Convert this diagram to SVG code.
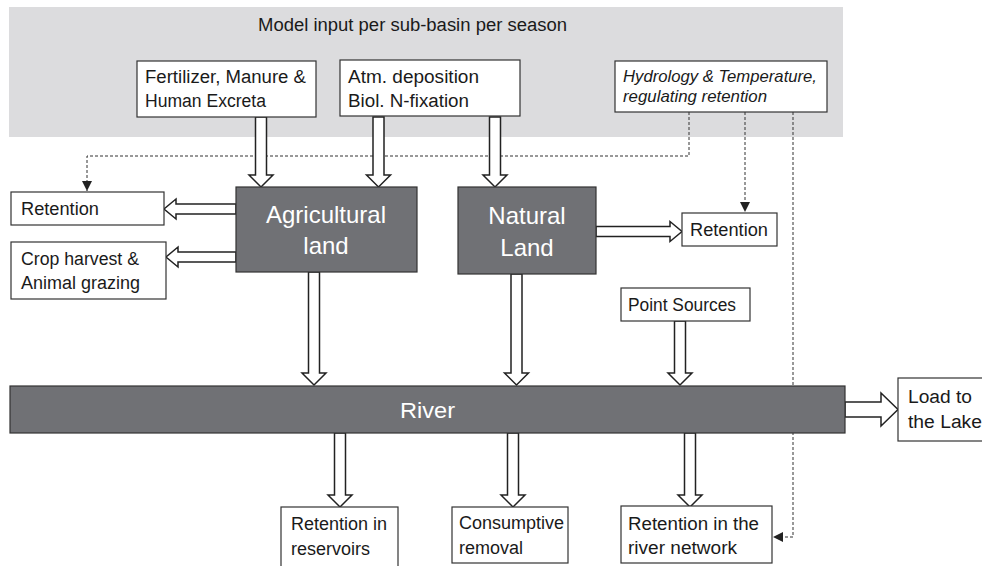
<svg xmlns="http://www.w3.org/2000/svg" width="982" height="566" viewBox="0 0 982 566">
<style>
  text { font-family: "Liberation Sans", Arial, sans-serif; fill: #1a1a1a; }
  .lbl { font-size: 18px; }
  .it { font-size: 16.5px; font-style: italic; }
  .big { font-size: 24px; fill: #ffffff; }
  .box { fill: #ffffff; stroke: #333333; stroke-width: 1.2; }
  .dark { fill: #707175; stroke: #333333; stroke-width: 1.2; }
  .arr { fill: #ffffff; stroke: #222222; stroke-width: 1.5; stroke-linejoin: miter; }
  .dash { fill: none; stroke: #333333; stroke-width: 1; stroke-dasharray: 3 2; }
</style>
<defs>
  <marker id="ah" viewBox="0 0 10 10" refX="10" refY="5" markerWidth="10" markerHeight="10" markerUnits="userSpaceOnUse" orient="auto">
    <path d="M0,0 L10,5 L0,10 Z" fill="#222222"/>
  </marker>
</defs>

<rect id="input-panel" x="9" y="7" width="834" height="130" fill="#dcdcde"/>
<text class="lbl" x="258" y="31" textLength="309" lengthAdjust="spacingAndGlyphs">Model input per sub-basin per season</text>

<g id="connectors">
  <path class="dash" d="M689,112 V156 H87 V191" marker-end="url(#ah)"/>
  <path class="dash" d="M745,112 V212" marker-end="url(#ah)"/>
  <path class="dash" d="M793,112 V537 H773" marker-end="url(#ah)"/>
  <polygon class="arr" points="255.5,117 266.5,117 266.5,175 273,175 261,187 249,175 255.5,175"/>
  <polygon class="arr" points="373,117 384,117 384,175 390.5,175 378.5,187 366.5,175 373,175"/>
  <polygon class="arr" points="489.5,117 500.5,117 500.5,175 507,175 495,187 483,175 489.5,175"/>
  <polygon class="arr" points="236,204 236,214 176,214 176,219 164,209 176,199 176,204"/>
  <polygon class="arr" points="236,252 236,262 178,262 178,267 166,257 178,247 178,252"/>
  <polygon class="arr" points="596,226.5 596,236.5 670,236.5 670,241.5 682,231.5 670,221.5 670,226.5"/>
  <polygon class="arr" points="308.5,272 319.5,272 319.5,373 326,373 314,385 302,373 308.5,373"/>
  <polygon class="arr" points="511,274 522,274 522,373 528.5,373 516.5,385 504.5,373 511,373"/>
  <polygon class="arr" points="674.5,321 685.5,321 685.5,373 692,373 680,385 668,373 674.5,373"/>
  <polygon class="arr" points="334.5,433 345.5,433 345.5,495 352,495 340,507 328,495 334.5,495"/>
  <polygon class="arr" points="507.5,433 518.5,433 518.5,495 525,495 513,507 501,495 507.5,495"/>
  <polygon class="arr" points="684.5,433 695.5,433 695.5,495 702,495 690,507 678,495 684.5,495"/>
  <polygon class="arr" points="845,402 881,402 881,393 898,409.5 881,426 881,417 845,417"/>
</g>

<g id="fertilizer">
  <rect class="box" x="137" y="61" width="179" height="56"/>
  <text class="lbl" x="145" y="83" textLength="161" lengthAdjust="spacingAndGlyphs">Fertilizer, Manure &amp;</text>
  <text class="lbl" x="145" y="107" textLength="121" lengthAdjust="spacingAndGlyphs">Human Excreta</text>
</g>
<g id="atm">
  <rect class="box" x="340" y="60" width="180" height="56"/>
  <text class="lbl" x="348" y="83" textLength="131" lengthAdjust="spacingAndGlyphs">Atm. deposition</text>
  <text class="lbl" x="348" y="107" textLength="121" lengthAdjust="spacingAndGlyphs">Biol. N-fixation</text>
</g>
<g id="hydrology">
  <rect class="box" x="615" y="61" width="212" height="51"/>
  <text class="it" x="623" y="82" textLength="194" lengthAdjust="spacingAndGlyphs">Hydrology &amp; Temperature,</text>
  <text class="it" x="623" y="102" textLength="144" lengthAdjust="spacingAndGlyphs">regulating retention</text>
</g>
<g id="retention-left">
  <rect class="box" x="11" y="192" width="153" height="33"/>
  <text class="lbl" x="21" y="215" textLength="78" lengthAdjust="spacingAndGlyphs">Retention</text>
</g>
<g id="crop-harvest">
  <rect class="box" x="11" y="242" width="155" height="57"/>
  <text class="lbl" x="21" y="265" textLength="118" lengthAdjust="spacingAndGlyphs">Crop harvest &amp;</text>
  <text class="lbl" x="21" y="289" textLength="119" lengthAdjust="spacingAndGlyphs">Animal grazing</text>
</g>
<g id="agricultural-land">
  <rect class="dark" x="236" y="187" width="181" height="85"/>
  <text class="big" x="326" y="223" text-anchor="middle">Agricultural</text>
  <text class="big" x="326" y="254" text-anchor="middle">land</text>
</g>
<g id="natural-land">
  <rect class="dark" x="458" y="187" width="138" height="87"/>
  <text class="big" x="527" y="224" text-anchor="middle">Natural</text>
  <text class="big" x="527" y="256" text-anchor="middle">Land</text>
</g>
<g id="retention-right">
  <rect class="box" x="682" y="213" width="95" height="33"/>
  <text class="lbl" x="690" y="236" textLength="78" lengthAdjust="spacingAndGlyphs">Retention</text>
</g>
<g id="point-sources">
  <rect class="box" x="621" y="288" width="129" height="33"/>
  <text class="lbl" x="628" y="311" textLength="108" lengthAdjust="spacingAndGlyphs">Point Sources</text>
</g>
<g id="river">
  <rect class="dark" x="10" y="386" width="835" height="47"/>
  <text class="big" x="400" y="418" textLength="55" lengthAdjust="spacingAndGlyphs" style="font-size:22px">River</text>
</g>
<g id="load-lake">
  <rect class="box" x="898" y="378" width="95" height="63"/>
  <text class="lbl" x="908" y="403" textLength="64" lengthAdjust="spacingAndGlyphs">Load to</text>
  <text class="lbl" x="908" y="428" textLength="74" lengthAdjust="spacingAndGlyphs">the Lake</text>
</g>
<g id="retention-reservoirs">
  <rect class="box" x="281" y="507" width="117" height="62"/>
  <text class="lbl" x="291" y="530" textLength="96" lengthAdjust="spacingAndGlyphs">Retention in</text>
  <text class="lbl" x="291" y="555" textLength="79" lengthAdjust="spacingAndGlyphs">reservoirs</text>
</g>
<g id="consumptive-removal">
  <rect class="box" x="452" y="507" width="116" height="56"/>
  <text class="lbl" x="459" y="529" textLength="105" lengthAdjust="spacingAndGlyphs">Consumptive</text>
  <text class="lbl" x="459" y="554" textLength="64" lengthAdjust="spacingAndGlyphs">removal</text>
</g>
<g id="retention-network">
  <rect class="box" x="621" y="506" width="151" height="57"/>
  <text class="lbl" x="628" y="530" textLength="131" lengthAdjust="spacingAndGlyphs">Retention in the</text>
  <text class="lbl" x="628" y="554" textLength="109" lengthAdjust="spacingAndGlyphs">river network</text>
</g>
</svg>
